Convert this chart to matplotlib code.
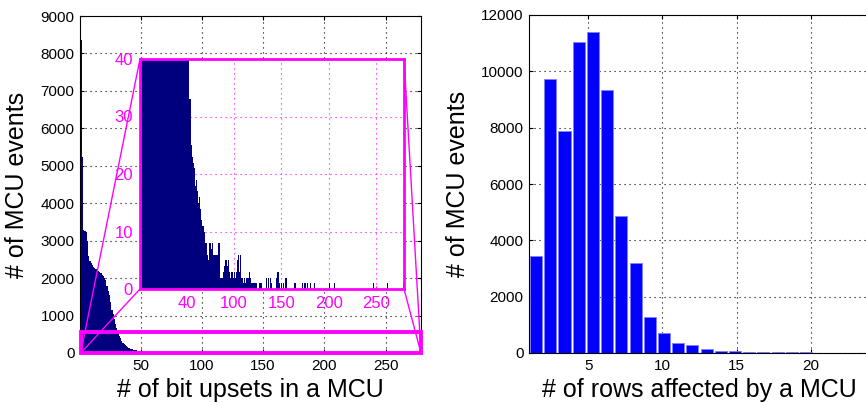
import numpy as np
import matplotlib
matplotlib.use('Agg')
import matplotlib.pyplot as plt
from matplotlib.patches import Rectangle, ConnectionPatch

plt.rcParams['font.family'] = ['Liberation Sans', 'DejaVu Sans']

# bit upsets per MCU, bins 1..123 (dense part)
upset_counts = [8350, 5230, 3290, 3270, 3240, 3000, 2600, 2450, 2400, 2350,
                2300, 2260, 2240, 2210, 2190, 2160, 2130, 2090, 2050, 2000,
                1950, 1800, 1650, 1550, 1350, 1150, 1050, 900, 780, 680,
                560, 460, 390, 330, 280, 240, 210, 180, 160, 140,
                120, 105, 95, 85, 75, 68, 60, 55, 50, 46,
                43, 40, 33, 33, 25, 23, 22, 21, 18, 19,
                17, 15, 16, 14, 12, 11, 11, 10, 8, 10,
                8, 6, 5, 8, 8, 7, 8, 6, 6, 6,
                6, 6, 8, 8, 2, 2, 2, 3, 4, 4,
                5, 5, 4, 5, 3, 2, 3, 3, 2, 3,
                2, 3, 5, 6, 3, 6, 2, 2, 1, 2,
                2, 1, 2, 2, 2, 3, 2, 1, 1, 1,
                1, 1, 1]
# sparse tail beyond bin 123
tail_bins = [126, 127, 128, 134, 136, 138, 139, 144, 145, 146, 147, 150, 152,
             154, 155, 163, 164, 172, 174, 175, 177, 180, 184, 200, 205, 246,
             261, 278]
tail_counts = [1, 1, 1, 2, 2, 2, 1, 2, 3, 3, 1, 1, 1,
               2, 2, 1, 1, 1, 1, 1, 1, 1, 1, 1, 1, 1,
               1, 1]

# rows affected per MCU (24 bins over 1..24)
row_counts = [3440, 9730, 7890, 11040, 11400, 9350, 4870, 3180, 1270, 720,
              370, 270, 130, 80, 55, 52, 42, 40, 30, 28,
              15, 10, 6, 4]

bit_ticks = [50, 100, 150, 200, 250]
inset_tick_labels = ['40', '100', '150', '200', '250']

upsets = np.zeros(278)
upsets[:len(upset_counts)] = upset_counts
for b, c in zip(tail_bins, tail_counts):
    upsets[b - 1] = c
bin_left = np.arange(1, 279)

navy = '#00007f'
mag = '#ff00ff'
dots = (0, (1, 3.5))

fig = plt.figure(figsize=(8.66, 4.03), dpi=100)

# ---- left panel
ax = fig.add_axes([80 / 866, 1 - 353 / 403, 341 / 866, 337 / 403])
ax.bar(bin_left, upsets, width=1.0, align='edge', color=navy, edgecolor='none', zorder=2)
ax.set_xlim(0.4, 279)
ax.set_ylim(0, 9000)
ax.set_yticks(np.arange(0, 9001, 1000))
ax.set_xticks(bit_ticks)
ax.grid(True, color='black', linestyle=dots, linewidth=0.8)
ax.tick_params(direction='in', length=3, top=True, right=True, labelsize=11, pad=4)
ax.set_xlabel('# of bit upsets in a MCU', fontsize=18)
ax.set_ylabel('# of MCU events', fontsize=18)
ax.xaxis.set_label_coords(0.5, -0.075)
ax.yaxis.set_label_coords(-0.15, 0.5)

ax.add_patch(Rectangle((1, 0), 278, 550, fill=False, edgecolor=mag, linewidth=2.8,
                       clip_on=False, zorder=5))

# ---- inset
ins = fig.add_axes([140 / 866, 1 - 289 / 403, 264 / 866, 230 / 403])
ins.bar(bin_left, upsets, width=1.0, align='edge', color=navy, edgecolor='none', zorder=2)
ins.set_xlim(1, 279)
ins.set_ylim(0, 40)
ins.set_yticks([0, 10, 20, 30, 40])
ins.set_xticks(bit_ticks)
ins.set_xticklabels(inset_tick_labels)
ins.grid(True, color=mag, linestyle=dots, linewidth=0.8)
ins.tick_params(direction='in', length=2, colors=mag, labelsize=12, pad=5)
for s in ins.spines.values():
    s.set_color(mag)
    s.set_linewidth(2)

for xa, xb in [((0, 1), (1, 0)), ((0, 0), (1, 0)), ((1, 1), (279, 0)), ((1, 0), (279, 0))]:
    con = ConnectionPatch(xyA=xa, coordsA=ins.transAxes, xyB=xb, coordsB=ax.transData,
                          color=mag, linewidth=1)
    fig.add_artist(con)

# ---- right panel
ax2 = fig.add_axes([529 / 866, 1 - 353 / 403, 341 / 866, 338 / 403])
edges = np.linspace(1, 24, 25)
centers = (edges[:-1] + edges[1:]) / 2
ax2.bar(centers, row_counts, width=0.85 * (edges[1] - edges[0]), color='#0000ff',
        edgecolor='#7f7fff', linewidth=0.6, zorder=2)
ax2.set_xlim(1, 24)
ax2.set_ylim(0, 12000)
ax2.set_yticks(np.arange(0, 12001, 2000))
ax2.set_xticks([5, 10, 15, 20])
ax2.grid(True, color='black', linestyle=dots, linewidth=0.8)
ax2.tick_params(direction='in', length=3, top=True, right=True, labelsize=11, pad=4)
ax2.set_xlabel('# of rows affected by a MCU', fontsize=18)
ax2.set_ylabel('# of MCU events', fontsize=18)
ax2.xaxis.set_label_coords(0.5, -0.075)
ax2.yaxis.set_label_coords(-0.173, 0.5)

fig.savefig('out.png', dpi=100)
